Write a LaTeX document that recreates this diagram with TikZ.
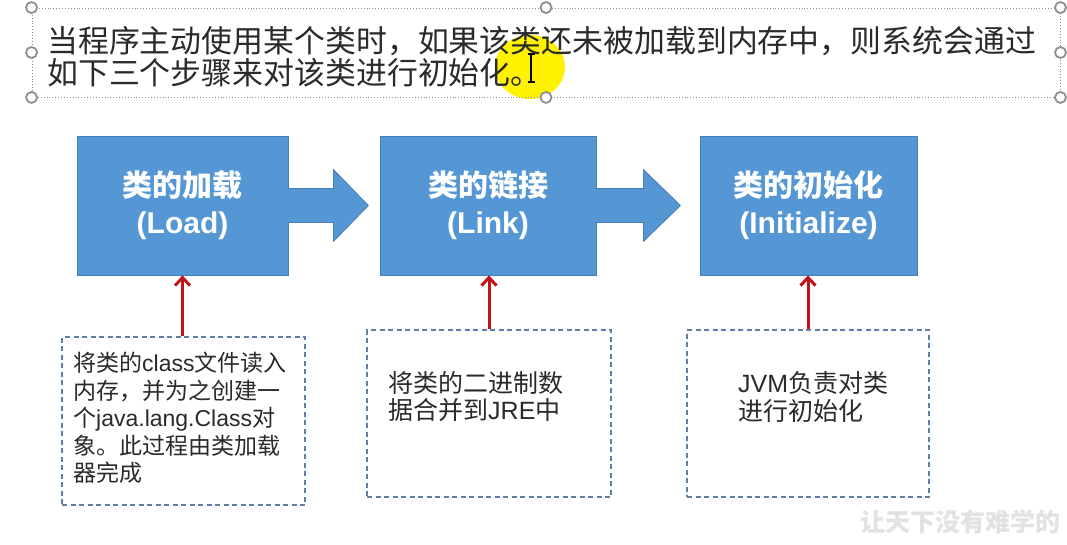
\documentclass[tikz,border=0pt]{standalone}
\usepackage{fontspec}
\setmainfont{Liberation Sans}
\newfontfamily\cjk{Noto Sans CJK SC}
\newfontfamily\lat{Liberation Sans}
\usetikzlibrary{arrows.meta,calc}
\definecolor{boxblue}{HTML}{5596D4}
\definecolor{boxedge}{HTML}{4A7EBB}
\definecolor{dashcol}{HTML}{5F7FA8}
\definecolor{redline}{HTML}{C0141B}
\definecolor{txt}{HTML}{2A2A2A}
\definecolor{handlecol}{HTML}{8F8F8F}
\definecolor{hilite}{HTML}{FFF200}
\definecolor{wmcol}{HTML}{E2E2E2}
\newcommand{\en}[1]{{\lat #1}}
\begin{document}
\begin{tikzpicture}[x=1pt,y=-1pt,
  bluebox/.style={rectangle, fill=boxblue, draw=boxedge, line width=0.8pt,
    minimum height=139pt, inner sep=0pt, align=center, text=white,
    font=\fontsize{30}{36}\selectfont\bfseries},
  blockarrow/.style={fill=boxblue, draw=boxedge, line width=0.8pt},
  redarrow/.style={draw=redline, line width=3pt, -{Straight Barb[length=8pt,width=15pt]}},
  dashbox/.style={rectangle, draw=dashcol, line width=1.4pt, dash pattern=on 5pt off 3.5pt, inner sep=0pt},
  desc/.style={anchor=west, align=left, inner sep=0pt, text=txt},
  frame/.style={rectangle, draw=handlecol, line width=0.9pt, dotted, inner sep=0pt},
  handle/.style={circle, draw=handlecol, fill=white, line width=1.8pt, minimum size=11pt, inner sep=0pt},
  toptext/.style={anchor=west, inner sep=0pt, text=txt, font=\cjk\fontsize{30.9}{36}\selectfont}
]
\useasboundingbox[fill=white] (0,0) rectangle (1067,544);

% cursor highlight
\fill[hilite] (530,67) ellipse (35 and 32);

% top text box with selection frame
\node[frame, minimum width=1028pt, minimum height=89pt] (tb) at (546,52.5) {};
\node[toptext] (t1) at (47,41) {当程序主动使用某个类时，如果该类还未被加载到内存中，则系统会通过};
\node[toptext] (t2) at (47,73) {如下三个步骤来对该类进行初始化。};
\foreach \a in {north west,north,north east,west,east,south west,south,south east}
  \node[handle] at (tb.\a) {};

% I-beam cursor
\draw[black, line width=1.4pt] (527.5,54) -- (534.5,54) (531,54) -- (531,82) (527.5,82) -- (534.5,82);

% blue boxes
\node[bluebox, minimum width=211pt] (b1) at (182.5,205.5) {\cjk 类的加载\\[1pt](Load)};
\node[bluebox, minimum width=216pt] (b2) at (488,205.5) {\cjk 类的链接\\[1pt](Link)};
\node[bluebox, minimum width=217pt] (b3) at (808.5,205.5) {\cjk 类的初始化\\[1pt](Initialize)};

% block arrows
\path[blockarrow] ($(b1.east)+(-1,-17)$) -- ($(b1.east)+(45,-17)$) -- ($(b1.east)+(45,-36)$)
  -- ($(b1.east)+(80,0)$) -- ($(b1.east)+(45,36)$) -- ($(b1.east)+(45,17)$) -- ($(b1.east)+(-1,17)$);
\path[blockarrow] ($(b2.east)+(-1,-17)$) -- ($(b2.east)+(47,-17)$) -- ($(b2.east)+(47,-36)$)
  -- ($(b2.east)+(84,0)$) -- ($(b2.east)+(47,36)$) -- ($(b2.east)+(47,17)$) -- ($(b2.east)+(-1,17)$);

% dashed description boxes
\node[dashbox, minimum width=243pt, minimum height=168pt] (dA) at (183.5,421) {};
\node[dashbox, minimum width=244pt, minimum height=167pt] (dB) at (489,413.5) {};
\node[dashbox, minimum width=242pt, minimum height=167pt] (dC) at (808,413.5) {};

\node[desc, font=\cjk\fontsize{23}{27.6}\selectfont] (tA) at (73,418)
  {将类的\en{class}文件读入\\内存，并为之创建一\\个\en{java.lang.Class}对\\象。此过程由类加载\\器完成};
\node[desc, font=\cjk\fontsize{25}{27}\selectfont] (tB) at (388,396.5)
  {将类的二进制数\\据合并到\en{JRE}中};
\node[desc, font=\cjk\fontsize{25}{28}\selectfont] (tC) at (738,397)
  {\en{JVM}负责对类\\进行初始化};

% red arrows
\draw[redarrow] (b1.south |- dA.north) -- (b1.south);
\draw[redarrow] (dB.north) -- (dB.north |- b2.south);
\draw[redarrow] (dC.north) -- (dC.north |- b3.south);

% watermark
\node[anchor=west, inner sep=0pt, text=wmcol, font=\cjk\fontsize{25}{25}\selectfont\bfseries] (wm) at (860,522) {让天下没有难学的};
\end{tikzpicture}
\end{document}
